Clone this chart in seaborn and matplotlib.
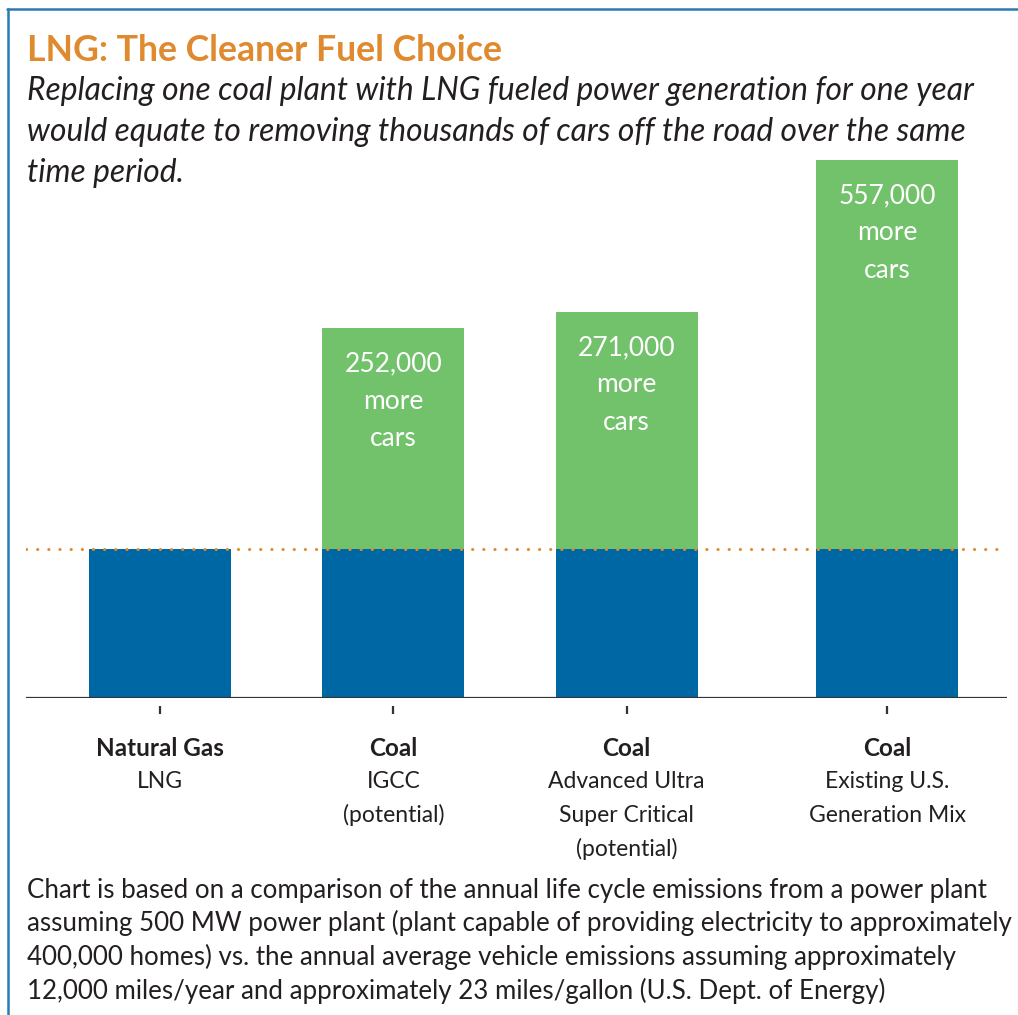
"""
LNG vs coal: extra emissions expressed as cars on the road.
Stacked bars (common LNG baseline + extra coal emissions).
"""
import matplotlib
matplotlib.use("Agg")
import matplotlib.pyplot as plt
from matplotlib.lines import Line2D
import pandas as pd
import seaborn as sns

# --- data ---------------------------------------------------------------
fuel = ["Natural Gas", "Coal", "Coal", "Coal"]
tech = [["LNG"], ["IGCC", "(potential)"],
        ["Advanced Ultra", "Super Critical", "(potential)"],
        ["Existing U.S.", "Generation Mix"]]
base = [1.0, 1.0, 1.0, 1.0]            # LNG emission level (relative)
extra = [0.0, 1.48, 1.59, 2.61]        # extra emissions of coal (relative)
cars = ["", "252,000", "271,000", "557,000"]

title = "LNG: The Cleaner Fuel Choice"
subtitle = ["Replacing one coal plant with LNG fueled power generation for one year",
            "would equate to removing thousands of cars off the road over the same",
            "time period."]
footer = ["Chart is based on a comparison of the annual life cycle emissions from a power plant",
          "assuming 500 MW power plant (plant capable of providing electricity to approximately",
          "400,000 homes) vs. the annual average vehicle emissions assuming approximately",
          "12,000 miles/year and approximately 23 miles/gallon (U.S. Dept. of Energy)"]

# layout: bar slots (last one sits a bit further right in the original)
slots = [0.0, 1.0, 2.0, 3.116]

BLUE = "#0067A5"
GREEN = "#72C26B"
ORANGE = "#DF8A2E"
FRAME = "#2C7AB5"
INK = "#231F20"

sns.set_theme(style="white")
plt.rcParams["font.family"] = ["Lato", "DejaVu Sans"]

W, H = 1018, 1015
fig = plt.figure(figsize=(W / 100, H / 100), dpi=100)


def px(x, y):
    return x / W, 1 - y / H


ax = fig.add_axes([26 / W, 1 - 698 / H, (1007 - 26) / W, (698 - 150) / H])

df = pd.DataFrame({"pos": slots, "base": base,
                   "total": [b + e for b, e in zip(base, extra)]})

sns.barplot(data=df, x="pos", y="total", native_scale=True, width=0.609,
            color=GREEN, saturation=1, errorbar=None, ax=ax, linewidth=0)
sns.barplot(data=df, x="pos", y="base", native_scale=True, width=0.609,
            color=BLUE, saturation=1, errorbar=None, ax=ax, linewidth=0)

ax.set_xlim(-0.574, 3.63)
ax.set_ylim(0, 3.678)
ax.set_xlabel(""); ax.set_ylabel("")
ax.set_yticks([])
sns.despine(ax=ax, left=True)
ax.spines["bottom"].set_visible(False)
ax.spines["bottom"].set_position(("outward", 6))

# baseline + dotted LNG level
ax.axhline(0, color="#333333", lw=1.6, zorder=3)
ax.axhline(base[0], color=ORANGE, lw=2.2, linestyle=(0, (0.05, 3.6)),
           dash_capstyle="round", zorder=4)

ax.set_xticks(slots, labels=[""] * len(slots))
ax.tick_params(axis="x", direction="out", length=6, width=1.6, color="#333333",
               bottom=True)

# white labels inside green bars
for x, b, e, c in zip(slots, base, extra, cars):
    if not c:
        continue
    ax.annotate(f"{c}\nmore\ncars", xy=(x, b + e), xytext=(0, -16.5),
                textcoords="offset points", ha="center", va="top",
                color="white", fontsize=19, linespacing=1.62)

# category labels under the axis
for x, f, t in zip(slots, fuel, tech):
    ax.annotate(f, xy=(x, 0), xytext=(0, -36), textcoords="offset points",
                ha="center", va="center", fontsize=17.5, fontweight="bold", color=INK)
    for i, line in enumerate(t):
        ax.annotate(line, xy=(x, 0), xytext=(0, -36 - 24.2 * (i + 1)),
                    textcoords="offset points", ha="center", va="center",
                    fontsize=16.5, color=INK)

# titles and footer
fig.text(*px(27, 61), title, fontsize=25.7, fontweight="bold", color=ORANGE,
         va="baseline")
for i, line in enumerate(subtitle):
    fig.text(*px(27, 100 + 41 * i), line, fontsize=22.9, style="italic",
             color=INK, va="baseline")
for i, line in enumerate(footer):
    fig.text(*px(27, 898 + 33.5 * i), line, fontsize=18.6, color=INK,
             va="baseline")

# frame (top and left edges)
fig.add_artist(Line2D([7 / W, 1], [1 - 9 / H, 1 - 9 / H], color=FRAME, lw=1.8,
                      transform=fig.transFigure))
fig.add_artist(Line2D([8 / W, 8 / W], [0, 1 - 9 / H], color=FRAME, lw=1.8,
                      transform=fig.transFigure))

fig.savefig("out.png", dpi=100)
